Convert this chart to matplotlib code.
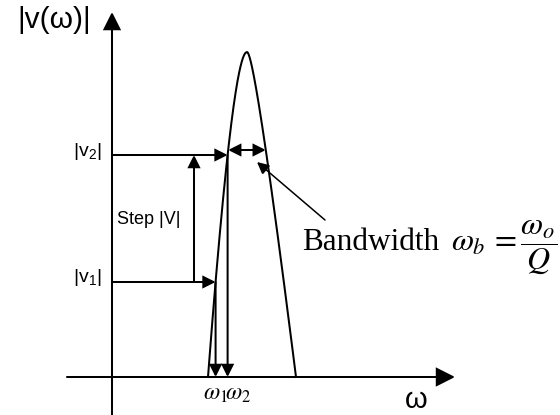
import numpy as np
import matplotlib
matplotlib.use("Agg")
import matplotlib.pyplot as plt

# Resonance-peak sketch: response |v(w)| with two step levels and bandwidth
w0 = 135.0           # centre frequency (horizontal units)
v_peak = 325.0       # peak magnitude
left_coef = [28.6, 10.4]    # shape of the low-frequency flank
right_coef = [16.2, 32.8]   # shape of the high-frequency flank
levels = {"v1": 95.0, "v2": 222.0}   # |v1| and |v2|
v_bw = 227.0         # level at which the bandwidth is marked
w_step = 82.0        # position of the "Step |V|" arrow

x_axis = [-45.0, 343.0]
y_axis = [-38.0, 365.0]


def flank(v, coef, sign):
    s = np.sqrt(np.clip(1.0 - v / v_peak, 0.0, 1.0))
    return w0 + sign * (coef[0] * s + coef[1] * s ** 2)


fig = plt.figure(figsize=(5.6, 4.15), dpi=100)
ax = fig.add_axes([0, 0, 1, 1])
ax.set_xlim(-112, 448)
ax.set_ylim(-38, 377)
ax.axis("off")

LW = 1.45


def arrow(xy_from, xy_to, style="-|>", hl=7.2, hw=3.6, lw=LW):
    ax.annotate("", xy=xy_to, xytext=xy_from,
                arrowprops=dict(arrowstyle=f"{style},head_length={hl},head_width={hw}",
                                mutation_scale=1, lw=lw, color="black",
                                shrinkA=0, shrinkB=0, joinstyle="miter"))


# axes with arrow heads
arrow((0, y_axis[0]), (0, y_axis[1]), hl=10.8, hw=5.4)
arrow((x_axis[0], 0), (x_axis[1], 0), hl=11.5, hw=5.8)

# response curve
v = np.linspace(0, v_peak, 400)
xs = np.concatenate([flank(v, left_coef, -1), flank(v[::-1], right_coef, +1)])
ys = np.concatenate([v, v[::-1]])
ax.plot(xs, ys, color="black", lw=LW, solid_joinstyle="round")

# step levels and the frequencies they hit
w1 = flank(levels["v1"], left_coef, -1)
w2 = flank(levels["v2"], left_coef, -1)
arrow((0, levels["v2"]), (w2, levels["v2"]))
arrow((0, levels["v1"]), (w1, levels["v1"]))
arrow((w1, levels["v1"]), (w1, 0))
arrow((w2, levels["v2"]), (w2, 0))
arrow((w_step, levels["v1"]), (w_step, levels["v2"]))

# bandwidth marker
bw_l = flank(v_bw, left_coef, -1)
bw_r = flank(v_bw, right_coef, +1)
arrow((bw_l, v_bw), (bw_r, v_bw), style="<|-|>")
arrow((213, 157), (145, 215), lw=1.1)

sans = "Liberation Sans"
ax.text(-58, 357, "|v(\u03c9)|", family=sans, fontsize=21.5, ha="center", va="center")
ax.text(304, -23, "\u03c9", family=sans, fontsize=21, ha="center", va="center")
ax.text(-10, levels["v2"] + 3, r"|v$_\mathregular{2}$|", family=sans, fontsize=14,
        ha="right", va="center")
ax.text(-10, levels["v1"] + 4, r"|v$_\mathregular{1}$|", family=sans, fontsize=14,
        ha="right", va="center")
ax.text(5, 158, "Step |V|", family=sans, fontsize=13, ha="left", va="center")

ax.text((w1 + w2) / 2 + 6, -16, r"$\omega_1\!\omega_2$", math_fontfamily="stix",
        fontsize=17, ha="center", va="center")
ax.text(190, 127, "Bandwidth", family="Liberation Serif", fontsize=22.5,
        ha="left", va="baseline")
ax.text(339, 127, r"$\omega_b\,=\dfrac{\omega_o}{Q}$", math_fontfamily="stix",
        fontsize=23, ha="left", va="baseline")

fig.savefig("out.png", dpi=100)
